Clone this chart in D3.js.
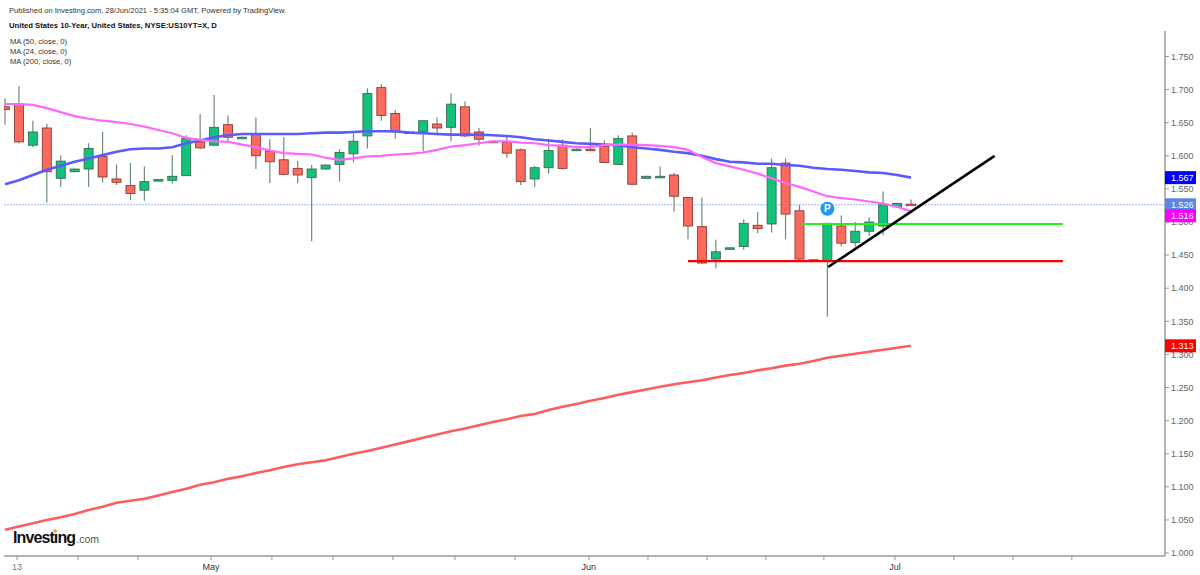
<!DOCTYPE html>
<html lang="en">
<head>
  <meta charset="UTF-8">
  <title>United States 10-Year</title>
  <style>
    body { margin: 0; background: #fff; }
    svg { display: block; font-family: "Liberation Sans", Arial, sans-serif; }
  </style>
</head>
<body>
  <svg id="svg" width="1200" height="575"></svg>
  <script src="https://d3js.org/d3.v7.min.js"></script>
  <script>
    // daily candles (bar index 0..65)
    const opens = [1.674,1.678,1.616,1.642,1.566,1.576,1.580,1.599,1.565,1.555,
      1.548,1.563,1.563,1.570,1.621,1.616,1.647,1.627,1.632,1.607,
      1.594,1.581,1.567,1.580,1.587,1.603,1.630,1.703,1.664,1.636,
      1.636,1.648,1.643,1.674,1.636,1.622,1.621,1.609,1.565,1.582,
      1.616,1.608,1.610,1.614,1.587,1.630,1.566,1.568,1.571,1.537,
      1.493,1.444,1.460,1.463,1.495,1.497,1.589,1.517,1.443,1.441,
      1.494,1.469,1.486,1.494,1.523,1.527]
    const highs = [1.687,1.705,1.653,1.648,1.601,1.581,1.619,1.636,1.587,1.589,
      1.584,1.565,1.601,1.631,1.663,1.692,1.661,1.629,1.658,1.625,
      1.628,1.592,1.586,1.587,1.610,1.634,1.702,1.708,1.669,1.636,
      1.653,1.658,1.694,1.682,1.642,1.623,1.629,1.611,1.585,1.626,
      1.625,1.611,1.642,1.623,1.631,1.635,1.570,1.584,1.574,1.538,
      1.537,1.473,1.462,1.504,1.515,1.596,1.596,1.526,1.443,1.499,
      1.510,1.500,1.507,1.546,1.529,1.534]
    const lows = [1.647,1.619,1.613,1.529,1.553,1.575,1.553,1.560,1.556,1.533,
      1.532,1.562,1.558,1.570,1.610,1.616,1.621,1.626,1.580,1.559,
      1.571,1.559,1.471,1.579,1.561,1.590,1.611,1.653,1.626,1.635,
      1.607,1.631,1.622,1.628,1.615,1.621,1.597,1.556,1.553,1.573,
      1.579,1.607,1.607,1.589,1.587,1.557,1.565,1.567,1.516,1.474,
      1.437,1.430,1.459,1.458,1.483,1.484,1.474,1.440,1.441,1.357,
      1.463,1.463,1.479,1.480,1.522,1.526]
    const closes = [1.670,1.621,1.636,1.576,1.592,1.580,1.611,1.568,1.560,1.543,
      1.561,1.564,1.569,1.626,1.612,1.643,1.628,1.628,1.600,1.591,
      1.572,1.571,1.580,1.586,1.605,1.622,1.694,1.661,1.636,1.635,
      1.653,1.642,1.678,1.630,1.625,1.621,1.604,1.561,1.582,1.608,
      1.581,1.610,1.608,1.590,1.626,1.557,1.569,1.569,1.539,1.494,
      1.438,1.455,1.461,1.498,1.490,1.582,1.512,1.444,1.442,1.498,
      1.468,1.486,1.500,1.526,1.528,1.526]

    // moving averages
    const ma50 = [1.557,1.563,1.571,1.579,1.585,1.591,1.596,1.601,1.606,1.610,
      1.611,1.611,1.613,1.619,1.623,1.628,1.631,1.633,1.633,1.633,
      1.633,1.633,1.634,1.635,1.635,1.636,1.637,1.637,1.637,1.635,
      1.634,1.633,1.632,1.632,1.632,1.631,1.630,1.628,1.625,1.623,
      1.621,1.619,1.618,1.617,1.616,1.613,1.611,1.609,1.606,1.604,
      1.600,1.595,1.591,1.590,1.588,1.588,1.586,1.585,1.582,1.580,
      1.579,1.577,1.575,1.574,1.571,1.567]
    const ma24 = [1.678,1.678,1.677,1.672,1.666,1.660,1.656,1.653,1.651,1.648,
      1.644,1.639,1.634,1.627,1.624,1.622,1.621,1.617,1.613,1.608,
      1.604,1.603,1.602,1.597,1.594,1.596,1.599,1.600,1.602,1.603,
      1.605,1.609,1.614,1.616,1.619,1.622,1.622,1.620,1.619,1.616,
      1.615,1.613,1.613,1.616,1.617,1.617,1.616,1.615,1.613,1.609,
      1.598,1.589,1.584,1.579,1.573,1.566,1.559,1.553,1.546,1.539,
      1.536,1.534,1.531,1.528,1.523,1.516]
    const ma200 = [1.035,1.040,1.045,1.050,1.054,1.059,1.065,1.070,1.076,1.079,
      1.082,1.087,1.092,1.097,1.103,1.107,1.112,1.116,1.121,1.125,
      1.130,1.134,1.137,1.140,1.145,1.150,1.154,1.159,1.164,1.169,
      1.174,1.179,1.184,1.188,1.193,1.198,1.202,1.207,1.210,1.216,
      1.221,1.225,1.230,1.234,1.239,1.243,1.247,1.251,1.255,1.258,
      1.261,1.265,1.269,1.272,1.276,1.279,1.283,1.286,1.290,1.295,
      1.298,1.301,1.304,1.307,1.310,1.313]

    // axes
    const yTicks = [1.000,1.050,1.100,1.150,1.200,1.250,1.300,1.350,1.400,
      1.450,1.500,1.550,1.600,1.650,1.700,1.750]
    const xTickPos = [0.86,5.24,9.54,14.78,19.15,23.53,27.83,32.28,36.59,
      41.89,46.13,50.36,54.59,58.75,63.85,68.08,72.31,76.54]
    const xTickLabels = ['13','','','May','','','','','','Jun','','','','','Jul','','','']

    // drawings on the chart (bar index, value)
    const supportLine = [[49, 1.441], [75.9, 1.441]]
    const resistLine = [[57.2, 1.497], [75.9, 1.497]]
    const trendLine = [[59.06, 1.432], [71.0, 1.600]]
    const marker = [59, 1.520]

    const headerLines = [
      'Published on Investing.com, 28/Jun/2021 - 5:35:04 GMT, Powered by TradingView.',
      'United States 10-Year, United States, NYSE:US10YT=X, D'
    ]
    const legendLines = ['MA (50, close, 0)', 'MA (24, close, 0)', 'MA (200, close, 0)']

    const plot = { left: 4, right: 1165, top: 31, bottom: 556 }
    const svg = d3.select('#svg')

    const x = d3.scaleLinear().domain([0, 65]).range([5, 911])
    const y = d3.scaleLinear().domain([1.0, 1.75]).range([553, 56.5])
    const bodyW = 9

    svg.append('defs').append('clipPath').attr('id', 'clip')
      .append('rect')
      .attr('x', plot.left).attr('y', plot.top)
      .attr('width', plot.right - plot.left).attr('height', plot.bottom - plot.top)

    const candles = opens.map((o, i) => ({ i, o, h: highs[i], l: lows[i], c: closes[i] }))

    const chart = svg.append('g').attr('clip-path', 'url(#clip)')

    // last price line
    const last = closes[closes.length - 1]
    chart.append('line')
      .attr('x1', plot.left).attr('x2', plot.right)
      .attr('y1', y(last)).attr('y2', y(last))
      .attr('stroke', '#9fb4f2').attr('stroke-width', 1)
      .attr('stroke-dasharray', '2,1')

    // candles
    const cg = chart.append('g')
    cg.selectAll('line.wick')
      .data(candles)
      .enter()
      .append('line')
      .attr('class', 'wick')
      .attr('x1', d => x(d.i)).attr('x2', d => x(d.i))
      .attr('y1', d => y(d.h)).attr('y2', d => y(d.l))
      .attr('stroke', '#6f8a7c').attr('stroke-width', 1.2)

    cg.selectAll('rect')
      .data(candles)
      .enter()
      .append('rect')
      .attr('x', d => x(d.i) - bodyW / 2)
      .attr('y', d => y(Math.max(d.o, d.c)))
      .attr('width', bodyW)
      .attr('height', d => Math.max(1.5, Math.abs(y(d.o) - y(d.c))))
      .attr('fill', d => d.c >= d.o ? '#12c27b' : '#fb6a5d')
      .attr('stroke', d => d.c >= d.o ? '#3d6b52' : '#8c3d36')
      .attr('stroke-width', 0.9)

    // moving averages
    const line = d3.line().x((d, i) => x(i)).y(d => y(d))
    const maSeries = [
      { data: ma200, color: '#ff5c5c', width: 2.6 },
      { data: ma50, color: '#5a5aff', width: 2.6 },
      { data: ma24, color: '#ff66ff', width: 2.2 }
    ]
    chart.selectAll('path.ma')
      .data(maSeries)
      .enter()
      .append('path')
      .attr('class', 'ma')
      .attr('d', d => line(d.data))
      .attr('fill', 'none')
      .attr('stroke', d => d.color)
      .attr('stroke-width', d => d.width)

    // drawings
    const seg = d3.line().x(d => x(d[0])).y(d => y(d[1]))
    const drawings = [
      { pts: supportLine, color: '#ff0000', width: 2.2 },
      { pts: resistLine, color: '#22ee22', width: 2.2 },
      { pts: trendLine, color: '#000000', width: 2.6 }
    ]
    chart.selectAll('path.draw')
      .data(drawings)
      .enter()
      .append('path')
      .attr('class', 'draw')
      .attr('d', d => seg(d.pts))
      .attr('fill', 'none')
      .attr('stroke', d => d.color)
      .attr('stroke-width', d => d.width)

    // P marker
    chart.append('circle')
      .attr('cx', x(marker[0])).attr('cy', y(marker[1]))
      .attr('r', 7).attr('fill', '#2196f3')
    chart.append('text')
      .attr('x', x(marker[0])).attr('y', y(marker[1]) + 3.5)
      .attr('text-anchor', 'middle')
      .attr('font-size', 10).attr('font-weight', 'bold')
      .attr('fill', '#fff')
      .text('P')

    // value labels on the price axis (positions resolved first, so hidden tick labels can be skipped)
    const tags = [
      { v: ma50[ma50.length - 1], color: '#0000ff' },
      { v: last, color: '#5b86e8' },
      { v: ma24[ma24.length - 1], color: '#ff00ff' },
      { v: ma200[ma200.length - 1], color: '#ff0000' }
    ].map(t => ({ ...t, py: y(t.v) }))
    tags.sort((a, b) => a.py - b.py)
    tags.forEach((t, i) => {
      if (i > 0 && t.py < tags[i - 1].py + 11) t.py = tags[i - 1].py + 11
    })

    // right axis
    const axisColor = '#9a9a9a'
    svg.append('line')
      .attr('x1', plot.right).attr('x2', plot.right)
      .attr('y1', plot.top).attr('y2', plot.bottom)
      .attr('stroke', axisColor).attr('stroke-width', 1.5)
    const yg = svg.append('g')
    yg.selectAll('line')
      .data(yTicks)
      .enter()
      .append('line')
      .attr('x1', plot.right).attr('x2', plot.right + 4)
      .attr('y1', d => y(d)).attr('y2', d => y(d))
      .attr('stroke', axisColor)
    // tick labels almost fully under a tag are covered in the original
    const covered = t => tags.some(g => Math.abs(g.py - y(t)) < 6)
    yg.selectAll('text')
      .data(yTicks.filter(t => !covered(t)))
      .enter()
      .append('text')
      .attr('x', plot.right + 6)
      .attr('y', d => y(d) + 3.2)
      .attr('font-size', 9)
      .attr('fill', '#666')
      .text(d => d3.format('.3f')(d))

    // bottom axis
    svg.append('line')
      .attr('x1', plot.left).attr('x2', plot.right)
      .attr('y1', plot.bottom).attr('y2', plot.bottom)
      .attr('stroke', axisColor).attr('stroke-width', 1.5)
    const xg = svg.append('g')
    xg.selectAll('line')
      .data(xTickPos)
      .enter()
      .append('line')
      .attr('x1', d => x(d)).attr('x2', d => x(d))
      .attr('y1', plot.bottom).attr('y2', plot.bottom + 4)
      .attr('stroke', axisColor)
    xg.selectAll('text')
      .data(xTickPos)
      .enter()
      .append('text')
      .attr('x', d => x(d))
      .attr('y', plot.bottom + 14)
      .attr('text-anchor', 'middle')
      .attr('font-size', 9)
      .attr('fill', (d, i) => xTickLabels[i] === '13' ? '#777' : '#333')
      .text((d, i) => xTickLabels[i])

    const tg = svg.append('g')
    tg.selectAll('rect')
      .data(tags)
      .enter()
      .append('rect')
      .attr('x', plot.right).attr('y', d => d.py - 6.5)
      .attr('width', 31).attr('height', 13)
      .attr('fill', d => d.color)
    tg.selectAll('text')
      .data(tags)
      .enter()
      .append('text')
      .attr('x', plot.right + 6).attr('y', d => d.py + 3.3)
      .attr('font-size', 9).attr('fill', '#fff')
      .text(d => d3.format('.3f')(d.v))

    // header
    svg.append('text')
      .attr('x', 9).attr('y', 12.5)
      .attr('font-size', 7.55).attr('fill', '#333')
      .text(headerLines[0])
    svg.append('text')
      .attr('x', 9).attr('y', 27.5)
      .attr('font-size', 7.7).attr('font-weight', 'bold').attr('fill', '#111')
      .text(headerLines[1])
    svg.selectAll('text.legend')
      .data(legendLines)
      .enter()
      .append('text')
      .attr('class', 'legend')
      .attr('x', 10).attr('y', (d, i) => 43.5 + i * 10.2)
      .attr('font-size', 7.6).attr('fill', '#333')
      .text(d => d)

    // logo
    const logo = svg.append('text')
      .attr('x', 13).attr('y', 543)
      .attr('font-size', 16).attr('font-weight', 'bold')
      .attr('fill', '#111').attr('letter-spacing', -0.9)
    logo.append('tspan').text('Invest')
    logo.append('tspan').attr('id', 'dotless').text('\u0131')
    logo.append('tspan').text('ng')
    logo.append('tspan')
      .attr('font-size', 10.5).attr('font-weight', 'normal')
      .attr('fill', '#555').attr('letter-spacing', 0)
      .attr('dx', 1.2)
      .text('.com')
    const iNode = document.getElementById('dotless')
    const start = iNode.getStartPositionOfChar(0)
    const end = iNode.getEndPositionOfChar(0)
    svg.append('circle')
      .attr('cx', (start.x + end.x) / 2 - 0.4)
      .attr('cy', 531)
      .attr('r', 1.8)
      .attr('fill', '#f7a21b')
  </script>
</body>
</html>
